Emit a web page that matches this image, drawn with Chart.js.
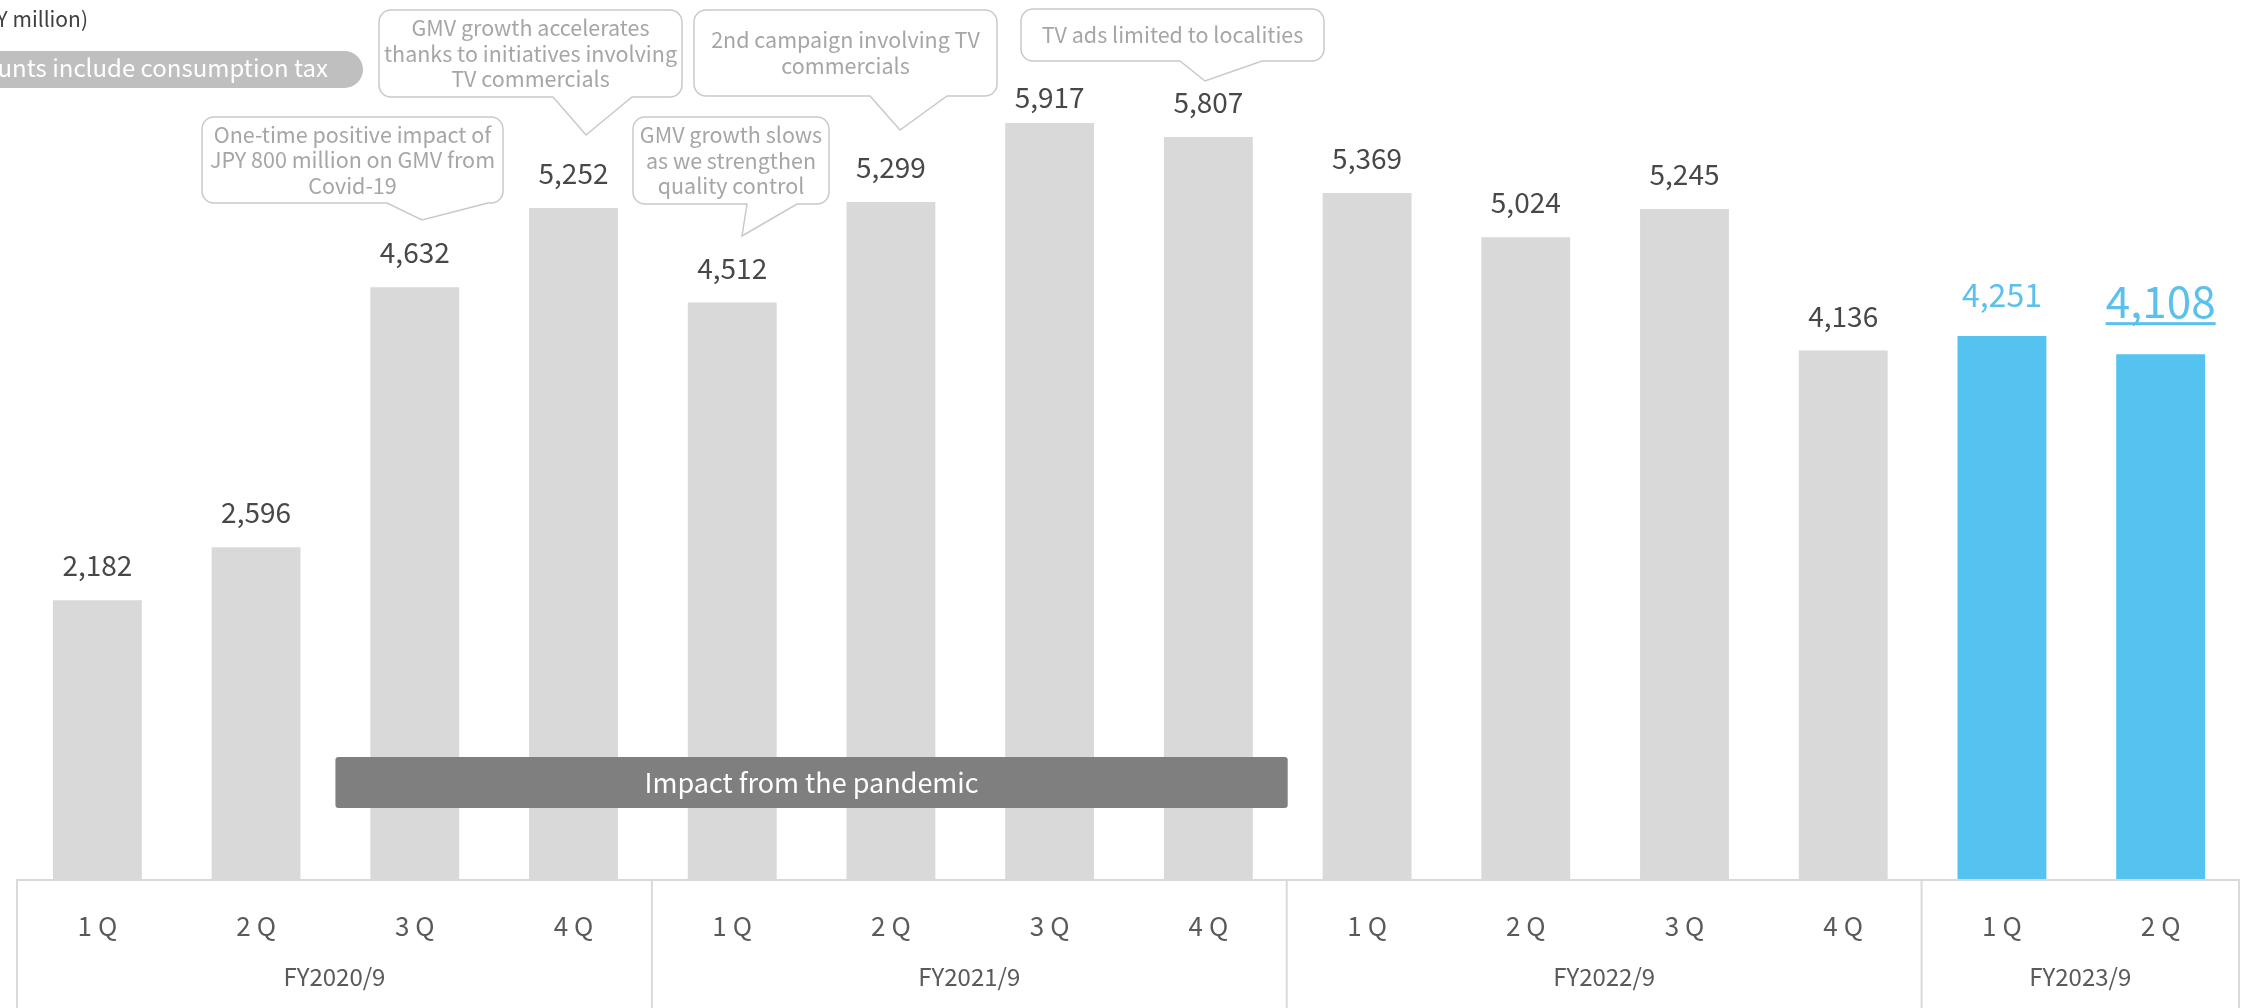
<!DOCTYPE html>
<html>
<head>
<meta charset="utf-8">
<script src="https://cdn.jsdelivr.net/npm/chart.js@4.4.0/dist/chart.umd.min.js"></script>
<style>
  html, body { margin: 0; padding: 0; background: #fff; }
  canvas { display: block; }
</style>
</head>
<body>
<canvas id="gmv" width="2242" height="1008"></canvas>
<script>
// quarterly GMV (JPY million)
const quarters = ["1Q", "2Q", "3Q", "4Q", "1Q", "2Q", "3Q", "4Q", "1Q", "2Q", "3Q", "4Q", "1Q", "2Q"];
const fiscalYears = ["FY2020/9", "FY2021/9", "FY2022/9", "FY2023/9"];
const quartersPerYear = [4, 4, 4, 2];
const gmv = [2182, 2596, 4632, 5252, 4512, 5299, 5917, 5807, 5369, 5024, 5245, 4136, 4251, 4108];
const currentYear = "FY2023/9";

// pandemic band covers these bars
const pandemicFrom = 2;
const pandemicTo = 7;

const notes = [
    { lines: ["One-time positive impact of", "JPY 800 million on GMV from", "Covid-19"], box: [202, 117, 503, 203], tail: [387, 488, 422, 220] },
    { lines: ["GMV growth accelerates", "thanks to initiatives involving", "TV commercials"], box: [379, 10, 682, 97], tail: [553, 632, 586, 135] },
    { lines: ["GMV growth slows", "as we strengthen", "quality control"], box: [633, 117, 829, 204], tail: [747, 797, 742, 236] },
    { lines: ["2nd campaign involving TV", "commercials"], box: [694, 10, 997, 96], tail: [870, 947, 900, 130] },
    { lines: ["TV ads limited to localities"], box: [1021, 9, 1324, 61], tail: [1180, 1262, 1205, 81] }
];

const GREY = "#D9D9D9";
const BLUE = "#55C3EF";
const FONT = "'Noto Sans CJK JP', 'Noto Sans', sans-serif";

// which fiscal year each bar belongs to
const yearOfBar = [];
quartersPerYear.forEach((n, k) => {
    for (let j = 0; j < n; j++) yearOfBar.push(fiscalYears[k]);
});
const barColors = yearOfBar.map(y => y === currentYear ? BLUE : GREY);

function fmt(v) {
    return v.toLocaleString("en-US");
}

function drawCallout(ctx, note) {
    const [x1, y1, x2, y2] = note.box;
    const [bl, br, tx, ty] = note.tail;
    const r = 12;
    ctx.save();
    ctx.beginPath();
    ctx.moveTo(x1 + r, y1);
    ctx.lineTo(x2 - r, y1);
    ctx.arcTo(x2, y1, x2, y1 + r, r);
    ctx.lineTo(x2, y2 - r);
    ctx.arcTo(x2, y2, x2 - r, y2, r);
    ctx.lineTo(br, y2);
    ctx.lineTo(tx, ty);
    ctx.lineTo(bl, y2);
    ctx.lineTo(x1 + r, y2);
    ctx.arcTo(x1, y2, x1, y2 - r, r);
    ctx.lineTo(x1, y1 + r);
    ctx.arcTo(x1, y1, x1 + r, y1, r);
    ctx.closePath();
    ctx.fillStyle = "#fff";
    ctx.fill();
    ctx.strokeStyle = "#C9C9C9";
    ctx.lineWidth = 1.5;
    ctx.stroke();

    ctx.fillStyle = "#A6A6A6";
    ctx.font = "21.5px " + FONT;
    ctx.textAlign = "center";
    ctx.textBaseline = "middle";
    const lh = 25.5;
    const cx = (x1 + x2) / 2;
    const cy = (y1 + y2) / 2;
    note.lines.forEach((t, i) => {
        ctx.fillText(t, cx, cy + (i - (note.lines.length - 1) / 2) * lh);
    });
    ctx.restore();
}

const decorations = {
    id: "decorations",
    afterDatasetsDraw(chart) {
        const ctx = chart.ctx;
        const xs = chart.scales.x;
        const area = chart.chartArea;
        const meta = chart.getDatasetMeta(0);
        const step = xs.getPixelForValue(1) - xs.getPixelForValue(0);
        const base = area.bottom;
        const h = chart.height;

        // value labels
        ctx.save();
        ctx.textAlign = "center";
        ctx.textBaseline = "alphabetic";
        meta.data.forEach((bar, i) => {
            const isCurrent = yearOfBar[i] === currentYear;
            const last = i === gmv.length - 1;
            let y;
            if (last) {
                y = bar.y - 36;
                ctx.font = "44px " + FONT;
            } else if (isCurrent) {
                y = bar.y - 29;
                ctx.font = "32px " + FONT;
            } else {
                y = Math.max(bar.y - 24, 108);
                ctx.font = "28px " + FONT;
            }
            ctx.fillStyle = isCurrent ? "#5BC0EB" : "#484848";
            const txt = fmt(gmv[i]);
            ctx.fillText(txt, bar.x, y);
            if (last) {
                const w = ctx.measureText(txt).width;
                ctx.fillRect(bar.x - w / 2, y + 4, w, 3);
            }
        });
        ctx.restore();

        // pandemic band
        const bx1 = xs.getPixelForValue(pandemicFrom) - step / 2;
        const bx2 = xs.getPixelForValue(pandemicTo) + step / 2;
        ctx.save();
        ctx.fillStyle = "#7F7F7F";
        ctx.beginPath();
        ctx.roundRect(bx1, 757, bx2 - bx1, 51, 3);
        ctx.fill();
        ctx.fillStyle = "#fff";
        ctx.font = "27px " + FONT;
        ctx.textAlign = "center";
        ctx.textBaseline = "middle";
        ctx.fillText("Impact from the pandemic", (bx1 + bx2) / 2, 783);
        ctx.restore();

        // category axis: baseline, group separators, labels
        ctx.save();
        ctx.strokeStyle = "#D9D9D9";
        ctx.lineWidth = 2;
        ctx.beginPath();
        ctx.moveTo(area.left - 1, base + 1);
        ctx.lineTo(area.right - 1, base + 1);
        let idx = 0;
        const bounds = [area.left - 1];
        quartersPerYear.forEach(n => {
            idx += n;
            bounds.push(xs.getPixelForValue(idx - 1) + step / 2 - 1);
        });
        bounds.forEach(x => {
            ctx.moveTo(x, base);
            ctx.lineTo(x, h);
        });
        ctx.stroke();

        ctx.fillStyle = "#5A5A5A";
        ctx.textAlign = "center";
        ctx.textBaseline = "middle";
        ctx.font = "26px " + FONT;
        ctx.letterSpacing = "6px";
        quarters.forEach((q, i) => {
            ctx.fillText(q, xs.getPixelForValue(i) + 3, 926);
        });
        ctx.letterSpacing = "0px";
        ctx.font = "24px " + FONT;
        fiscalYears.forEach((fy, k) => {
            ctx.fillText(fy, (bounds[k] + bounds[k + 1]) / 2, 977);
        });
        ctx.restore();

        // unit and tax note (top-left, partly off canvas)
        ctx.save();
        ctx.fillStyle = "#404040";
        ctx.font = "21px " + FONT;
        ctx.textAlign = "right";
        ctx.textBaseline = "alphabetic";
        ctx.fillText("(JPY million)", 88, 27);
        ctx.fillStyle = "#BFBFBF";
        ctx.beginPath();
        ctx.roundRect(-40, 51, 403, 37, 18.5);
        ctx.fill();
        ctx.fillStyle = "#fff";
        ctx.font = "24px " + FONT;
        ctx.fillText("Amounts include consumption tax", 328, 77);
        ctx.restore();

        // speech bubbles
        notes.forEach(n => drawCallout(ctx, n));
    }
};

const context = document.getElementById("gmv").getContext("2d");
new Chart(context, {
    type: "bar",
    data: {
        labels: quarters.map((q, i) => yearOfBar[i] + " " + q),
        datasets: [{
            label: "GMV",
            data: gmv,
            backgroundColor: barColors,
            borderWidth: 0,
            barPercentage: 0.56,
            categoryPercentage: 1
        }]
    },
    options: {
        responsive: false,
        animation: false,
        devicePixelRatio: 1,
        layout: { padding: { left: 18, right: 2, top: 0, bottom: 129 } },
        plugins: {
            legend: { display: false },
            tooltip: { enabled: false }
        },
        scales: {
            x: { display: false },
            y: { display: false, min: 0, max: 6880 }
        }
    },
    plugins: [decorations]
});
</script>
</body>
</html>
